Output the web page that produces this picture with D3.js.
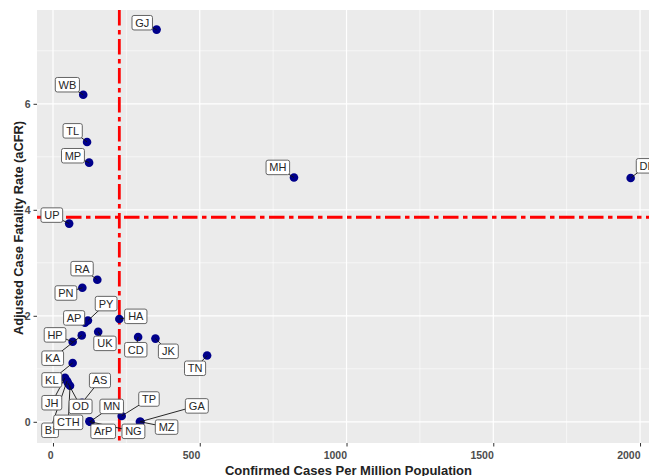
<!DOCTYPE html>
<html>
<head>
<meta charset="utf-8">
<script src="https://cdn.jsdelivr.net/npm/d3@7"></script>
<style>
  html, body { margin: 0; padding: 0; background: #ffffff; overflow: hidden; }
  svg { display: block; overflow: hidden; }
</style>
</head>
<body>
<svg id="chart" width="649" height="476"></svg>
<script>
// ---- data ----
const states = ["GJ","WB","TL","MP","MH","DL","UP","RA","PN","AP","PY","HA","UK","KA","HP","CD","JK","TN","KL","JH","BI","OD","CTH","AS","MN","ArP","NG","TP","GA","MZ"];
const casesPerMillion = [353,103,116,123,821,1968,55,151,100,109,119,226,154,98,67,290,349,525,67,41,48,51,58,99,126,124,128,234,296,298];
const acfr = [7.40,6.17,5.28,4.89,4.61,4.60,3.74,2.68,2.53,1.87,1.91,1.94,1.70,1.63,1.51,1.60,1.57,1.25,1.11,0.83,0.77,0.73,0.68,0.36,0.00,0.01,0.00,0.11,0.00,0.00];
// repelled label anchors (in data units), in the order of `labelOrder`
const labelOrder = ["GJ","WB","TL","MP","MH","DL","UP","RA","PN","PY","AP","HA","UK","HP","KA","CD","JK","TN","KL","JH","BI","OD","CTH","AS","MN","ArP","NG","TP","GA","MZ"];
const labelCases = [304,49,67,68,766,2022,-4,99,44,181,72,282,177,7,-1,282,393,484,-4,-4,-10,94,52,160,200,171,274,327,490,387];
const labelAcfr = [7.53,6.36,5.49,5.02,4.80,4.83,3.90,2.89,2.43,2.23,1.96,1.99,1.48,1.64,1.20,1.36,1.33,1.01,0.79,0.36,-0.16,0.29,-0.01,0.78,0.29,-0.18,-0.18,0.43,0.30,-0.10];
const thresholdCases = 226;
const thresholdAcfr = 3.86;
const xTicks = [0, 500, 1000, 1500, 2000];
const yTicks = [0, 2, 4, 6];
const xMinor = [250, 750, 1250, 1750];
const yMinor = [1, 3, 5, 7];
const xTitle = "Confirmed Cases Per Million Population";
const yTitle = "Adjusted Case Fatality Rate (aCFR)";

// ---- layout ----
const panel = { left: 37, top: 10, right: 660, bottom: 443 };
const svg = d3.select("#chart");
const x = d3.scaleLinear().domain([-54.5, 2068]).range([panel.left, panel.right]);
const y = d3.scaleLinear().domain([-0.4, 7.77]).range([panel.bottom, panel.top]);

// panel background
svg.append("rect")
  .attr("x", panel.left).attr("y", panel.top)
  .attr("width", panel.right - panel.left).attr("height", panel.bottom - panel.top)
  .attr("fill", "#EBEBEB");

svg.append("clipPath").attr("id", "pclip").append("rect")
  .attr("x", panel.left).attr("y", panel.top)
  .attr("width", panel.right - panel.left).attr("height", panel.bottom - panel.top);

const grid = svg.append("g");
grid.selectAll(".vminor").data(xMinor).join("line")
  .attr("x1", d => x(d)).attr("x2", d => x(d))
  .attr("y1", panel.top).attr("y2", panel.bottom)
  .attr("stroke", "#ffffff").attr("stroke-width", 0.6);
grid.selectAll(".hminor").data(yMinor).join("line")
  .attr("y1", d => y(d)).attr("y2", d => y(d))
  .attr("x1", panel.left).attr("x2", panel.right)
  .attr("stroke", "#ffffff").attr("stroke-width", 0.6);
grid.selectAll(".vmajor").data(xTicks).join("line")
  .attr("x1", d => x(d)).attr("x2", d => x(d))
  .attr("y1", panel.top).attr("y2", panel.bottom)
  .attr("stroke", "#ffffff").attr("stroke-width", 1.2);
grid.selectAll(".hmajor").data(yTicks).join("line")
  .attr("y1", d => y(d)).attr("y2", d => y(d))
  .attr("x1", panel.left).attr("x2", panel.right)
  .attr("stroke", "#ffffff").attr("stroke-width", 1.2);

// axes
const xAxis = svg.append("g")
  .attr("transform", `translate(0,${panel.bottom})`)
  .call(d3.axisBottom(x).tickValues(xTicks).tickSize(3.5).tickPadding(5).tickFormat(d3.format("d")));
const yAxis = svg.append("g")
  .attr("transform", `translate(${panel.left},0)`)
  .call(d3.axisLeft(y).tickValues(yTicks).tickSize(3.5).tickPadding(3).tickFormat(d3.format("d")));
[xAxis, yAxis].forEach(a => {
  a.select(".domain").remove();
  a.selectAll(".tick line").attr("stroke", "#333333").attr("stroke-width", 1);
  a.selectAll(".tick text")
    .attr("fill", "#4D4D4D")
    .style("font-family", "'Liberation Sans', Arial, sans-serif")
    .style("font-size", "10.5px")
    .style("font-weight", "bold");
});
xAxis.selectAll(".tick text").attr("text-anchor", "end");

// axis titles
svg.append("text")
  .attr("x", (panel.left + panel.right) / 2).attr("y", 475)
  .attr("text-anchor", "middle")
  .style("font-family", "'Liberation Sans', Arial, sans-serif")
  .style("font-size", "13px").style("font-weight", "bold")
  .attr("fill", "#222222")
  .text(xTitle);
svg.append("text")
  .attr("transform", `translate(22.5,228) rotate(-90)`)
  .attr("text-anchor", "middle")
  .style("font-family", "'Liberation Sans', Arial, sans-serif")
  .style("font-size", "12.8px").style("font-weight", "bold")
  .attr("fill", "#222222")
  .text(yTitle);

const plot = svg.append("g").attr("clip-path", "url(#pclip)");

// threshold lines
plot.append("line")
  .attr("x1", x(thresholdCases)).attr("x2", x(thresholdCases))
  .attr("y1", panel.top).attr("y2", panel.bottom)
  .attr("stroke", "#FF0000").attr("stroke-width", 2.8)
  .attr("stroke-dasharray", "15.5,4.5,4.5,4.5");
plot.append("line")
  .attr("y1", y(thresholdAcfr)).attr("y2", y(thresholdAcfr))
  .attr("x1", panel.left).attr("x2", panel.right)
  .attr("stroke", "#FF0000").attr("stroke-width", 2.8)
  .attr("stroke-dasharray", "15.5,4.5,4.5,4.5");

const pts = states.map((s, i) => ({ s, cx: casesPerMillion[i], cy: acfr[i] }));
const labs = labelOrder.map((s, i) => ({ s, lx: labelCases[i], ly: labelAcfr[i] }));
const ptBy = Object.fromEntries(pts.map(p => [p.s, p]));

// points
plot.selectAll(".pt").data(pts).join("circle")
  .attr("cx", d => x(d.cx)).attr("cy", d => y(d.cy))
  .attr("r", 4.3).attr("fill", "#00008B");

// segments
plot.selectAll(".seg").data(labs).join("line")
  .attr("x1", d => x(d.lx)).attr("y1", d => y(d.ly))
  .attr("x2", d => x(ptBy[d.s].cx)).attr("y2", d => y(ptBy[d.s].cy))
  .attr("stroke", "#111111").attr("stroke-width", 0.9);

// labels
const lg = plot.selectAll(".lab").data(labs).join("g")
  .attr("transform", d => `translate(${x(d.lx)},${y(d.ly)})`);
lg.append("text")
  .attr("text-anchor", "middle").attr("dy", "0.36em")
  .style("font-family", "'Liberation Sans', Arial, sans-serif")
  .style("font-size", "11px")
  .attr("fill", "#262626")
  .text(d => d.s);
lg.each(function() {
  const g = d3.select(this);
  const bb = g.select("text").node().getBBox();
  const padX = 3.2, w = bb.width + 2 * padX, h = 14.5;
  g.insert("rect", "text")
    .attr("x", -w / 2).attr("y", -h / 2)
    .attr("width", w).attr("height", h)
    .attr("rx", 2).attr("ry", 2)
    .attr("fill", "#ffffff").attr("stroke", "#555555").attr("stroke-width", 0.9);
});
</script>
</body>
</html>
